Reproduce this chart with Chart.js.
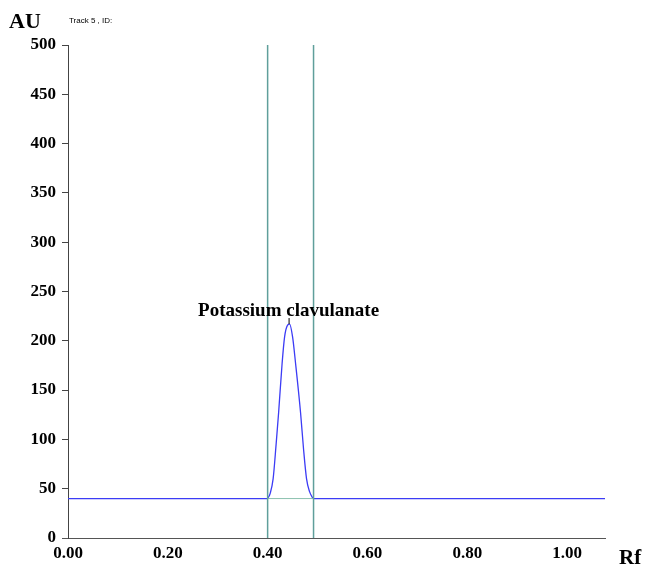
<!DOCTYPE html>
<html>
<head>
<meta charset="utf-8">
<script src="https://cdn.jsdelivr.net/npm/chart.js@4"></script>
<style>
  html, body { margin: 0; padding: 0; background: #fff; }
  #wrap { width: 645px; height: 569px; position: relative; }
</style>
</head>
<body>
<div id="wrap"><canvas id="tlcChart"></canvas></div>
<script>
// densitogram data (Rf vs AU)
const baseRf = [0.0, 1.076];
const baseAU = [40, 40];

const peakRf = [0.400, 0.405, 0.411, 0.417, 0.422, 0.429, 0.434, 0.440, 0.444, 0.450, 0.456, 0.466, 0.472, 0.478, 0.484, 0.491];
const peakAU = [40, 45, 60, 95, 127, 177, 204, 216, 217, 204, 177, 127, 90, 60, 47, 40];

const peakStartRf = 0.400;
const peakEndRf = 0.492;
const peakLabel = 'Potassium clavulanate';
const peakLabelRf = 0.442;
const peakLabelAU = 217;

const xTicks = [0.00, 0.20, 0.40, 0.60, 0.80, 1.00];
const yTicks = [0, 50, 100, 150, 200, 250, 300, 350, 400, 450, 500];

const blue = '#3c3cf5';
const teal = '#5f9f9b';

function pts(xs, ys) {
    return xs.map((x, i) => ({ x: x, y: ys[i] }));
}

// baseline: split around the peak so the peak curve fills the gap
const leftBase = pts([baseRf[0], peakStartRf], [baseAU[0], peakAU[0]]);
const rightBase = pts([peakRf[peakRf.length - 1], baseRf[1]], [peakAU[peakAU.length - 1], baseAU[1]]);

// extra text drawn on the canvas (axis names, header, peak name)
const annotations = {
    id: 'annotations',
    afterDraw(chart) {
        const ctx = chart.ctx;
        const xs = chart.scales.x;
        const ys = chart.scales.y;
        ctx.save();
        ctx.fillStyle = '#000';
        ctx.textBaseline = 'middle';

        ctx.font = 'bold 22px "Liberation Serif", serif';
        ctx.textAlign = 'left';
        ctx.fillText('AU', 9, 22);

        ctx.font = '8px "Liberation Sans", sans-serif';
        ctx.fillText('Track 5 , ID:', 69, 21);

        ctx.font = 'bold 21px "Liberation Serif", serif';
        ctx.fillText('Rf', 619, 559);

        // peak label and its little pointer
        const px = xs.getPixelForValue(peakLabelRf);
        const py = ys.getPixelForValue(peakLabelAU);
        ctx.font = 'bold 19px "Liberation Serif", serif';
        ctx.textAlign = 'center';
        ctx.textBaseline = 'alphabetic';
        ctx.fillText(peakLabel, px, py - 8);
        ctx.strokeStyle = '#000';
        ctx.lineWidth = 1;
        ctx.beginPath();
        ctx.moveTo(px + 0.5, py - 6);
        ctx.lineTo(px + 0.5, py);
        ctx.stroke();

        // x axis extends a little left of the y axis
        ctx.strokeStyle = '#555';
        ctx.beginPath();
        ctx.moveTo(62, ys.getPixelForValue(0) + 0.5);
        ctx.lineTo(xs.left, ys.getPixelForValue(0) + 0.5);
        ctx.stroke();
        ctx.restore();
    }
};

const ctx = document.getElementById('tlcChart').getContext('2d');
new Chart(ctx, {
    type: 'line',
    data: {
        datasets: [
            {
                data: pts([peakStartRf, peakStartRf], [0, 500]),
                borderColor: teal, borderWidth: 1.5, pointRadius: 0
            },
            {
                data: pts([peakEndRf, peakEndRf], [0, 500]),
                borderColor: teal, borderWidth: 1.5, pointRadius: 0
            },
            {
                data: pts([peakStartRf, peakEndRf], [40, 40]),
                borderColor: '#8cc2b0', borderWidth: 1, pointRadius: 0
            },
            {
                data: leftBase,
                borderColor: blue, borderWidth: 1.2, pointRadius: 0
            },
            {
                data: rightBase,
                borderColor: blue, borderWidth: 1.2, pointRadius: 0
            },
            {
                data: pts(peakRf, peakAU),
                borderColor: blue, borderWidth: 1.3, pointRadius: 0,
                tension: 0.4, cubicInterpolationMode: 'monotone'
            }
        ]
    },
    options: {
        responsive: true,
        maintainAspectRatio: false,
        animation: false,
        layout: { padding: { top: 45, right: 40, left: 0, bottom: 0 } },
        plugins: {
            legend: { display: false },
            tooltip: { enabled: false }
        },
        scales: {
            x: {
                type: 'linear',
                min: 0,
                max: 1.076,
                afterBuildTicks: function(scale) {
                    scale.ticks = xTicks.map(v => ({ value: v }));
                },
                afterFit: function(scale) { scale.height = 31; },
                ticks: {
                    color: '#000',
                    padding: 5,
                    maxRotation: 0,
                    font: { family: '"Liberation Serif", serif', size: 17, weight: 'bold' },
                    callback: function(value) { return value.toFixed(2); }
                },
                grid: { display: false, drawTicks: false },
                border: { display: true, color: '#555', width: 1 }
            },
            y: {
                min: 0,
                max: 500,
                afterBuildTicks: function(scale) {
                    scale.ticks = yTicks.map(v => ({ value: v }));
                },
                afterFit: function(scale) { scale.width = 68; },
                ticks: {
                    color: '#000',
                    padding: 6,
                    font: { family: '"Liberation Serif", serif', size: 17, weight: 'bold' }
                },
                grid: {
                    display: true,
                    drawOnChartArea: false,
                    drawTicks: true,
                    tickLength: 6,
                    color: '#444'
                },
                border: { display: true, color: '#444', width: 1 }
            }
        }
    },
    plugins: [annotations]
});
</script>
</body>
</html>
